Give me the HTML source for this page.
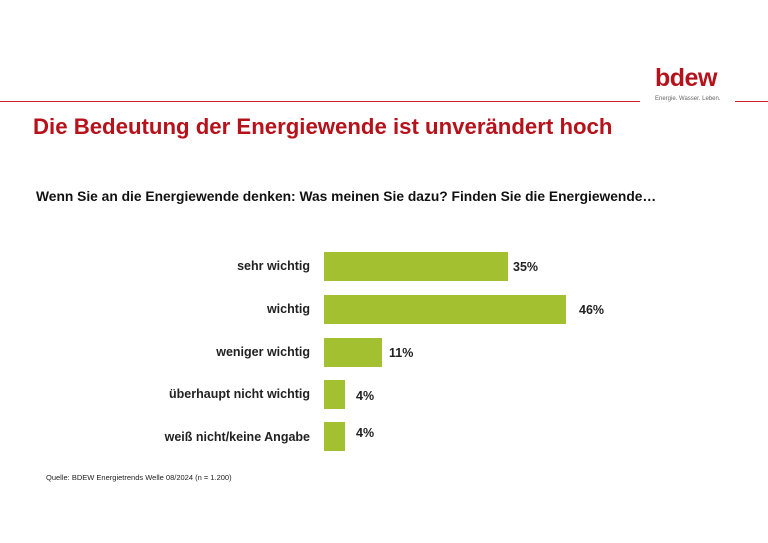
<!DOCTYPE html>
<html><head><meta charset="utf-8"><style>
body{margin:0;width:768px;height:543px;background:#fff;position:relative;overflow:hidden;font-family:"Liberation Sans",sans-serif}
.a{position:absolute;white-space:nowrap}
.bar{position:absolute;left:324px;background:#a3c031;height:29px}
.lab{position:absolute;right:458px;font-size:12.5px;font-weight:bold;color:#222;white-space:nowrap}
.pct{position:absolute;font-size:12.5px;font-weight:bold;color:#222}
</style></head><body>
<div class="a" style="left:0;top:101px;width:640px;height:1px;background:#c8202a"></div>
<div class="a" style="left:735px;top:101px;width:33px;height:1px;background:#c8202a"></div>
<div class="a" style="left:655px;top:64px;font-size:25px;font-weight:bold;color:#b5121b;letter-spacing:-0.5px">bdew</div>
<div class="a" style="left:655px;top:96px;font-size:6px;color:#666">Energie. Wasser. Leben.</div>
<div class="a" style="left:33px;top:114px;font-size:22.2px;font-weight:bold;color:#b5121b">Die Bedeutung der Energiewende ist unverändert hoch</div>
<div class="a" style="left:36px;top:189px;font-size:13.8px;font-weight:bold;color:#111">Wenn Sie an die Energiewende denken: Was meinen Sie dazu? Finden Sie die Energiewende…</div>
<div class="bar" style="top:252px;width:184px"></div>
<div class="bar" style="top:295px;width:242px"></div>
<div class="bar" style="top:338px;width:58px"></div>
<div class="bar" style="top:380px;width:21px"></div>
<div class="bar" style="top:422px;width:21px"></div>
<div class="lab" style="top:259px">sehr wichtig</div>
<div class="lab" style="top:302px">wichtig</div>
<div class="lab" style="top:345px">weniger wichtig</div>
<div class="lab" style="top:387px">überhaupt nicht wichtig</div>
<div class="lab" style="top:430px">weiß nicht/keine Angabe</div>
<div class="pct" style="left:513px;top:260px">35%</div>
<div class="pct" style="left:579px;top:303px">46%</div>
<div class="pct" style="left:389px;top:346px">11%</div>
<div class="pct" style="left:356px;top:389px">4%</div>
<div class="pct" style="left:356px;top:426px">4%</div>
<div class="a" style="left:46px;top:473px;font-size:7.5px;color:#222">Quelle: BDEW Energietrends Welle 08/2024 (n = 1.200)</div>
</body></html>
